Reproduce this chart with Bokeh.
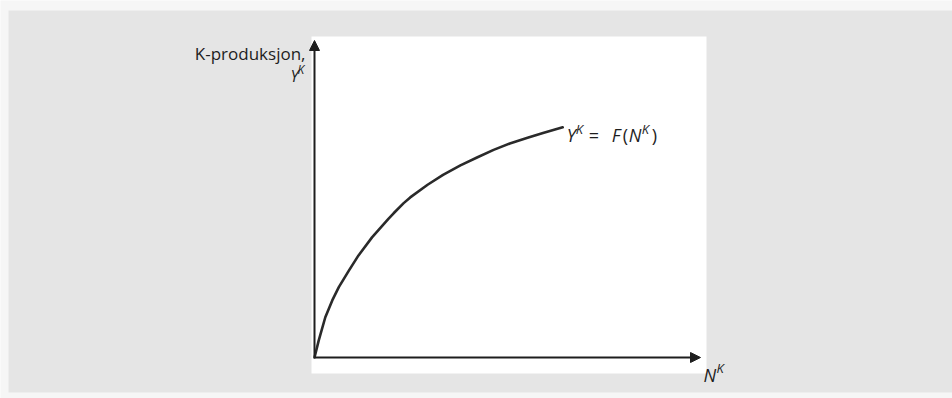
from bokeh.plotting import figure
from bokeh.models import Arrow, NormalHead, Range1d
from bokeh.core.properties import value
from bokeh.embed import file_html
from bokeh.resources import INLINE

# Production function Y^K = F(N^K): labour input and output along the curve
n_k = [0.0, 0.11, 0.28, 0.46, 0.63, 0.89, 1.14, 1.49, 1.92, 2.05, 2.31,
       2.48, 2.93, 3.33, 3.78, 4.21, 4.64, 5.06, 5.52, 5.92, 6.43]
y_k = [0.0, 0.54, 1.27, 1.80, 2.22, 2.74, 3.22, 3.79, 4.38, 4.55, 4.87,
       5.05, 5.45, 5.76, 6.06, 6.31, 6.55, 6.75, 6.93, 7.08, 7.26]

# Axis extents (arrow tips)
x_axis_end = 10.0
y_axis_end = 10.0

# Text
y_title = "K-produksjon,"
y_symbol = ["Y", "K"]
x_symbol = ["N", "K"]
curve_label = ["Y", "K", "=", "F", "(", "N", "K", ")"]

W, H = 952, 398
# page layout: where the origin sits and how many pixels per unit
ox, oy = 314, 357
sx, sy = 38.6, 31.7


def dx(px):
    return (px - ox) / sx


def dy(py):
    return (oy - py) / sy


FONT = value("Open Sans")
INK = "#1e1e1e"

p = figure(width=W, height=H, output_backend="svg", toolbar_location=None,
           x_range=Range1d(dx(0), dx(W)), y_range=Range1d(dy(H), dy(0)),
           min_border=0, outline_line_color=None,
           background_fill_color="#f6f6f6", border_fill_color="#f6f6f6")
p.axis.visible = False
p.grid.visible = False

# printed page behind the figure, and the blank figure area
p.quad(left=dx(8), right=dx(W), top=dy(10), bottom=dy(392),
       fill_color="#e5e5e5", line_color=None)
p.quad(left=dx(311), right=dx(706), top=dy(36), bottom=dy(373),
       fill_color="#ffffff", line_color=None)

# the curve
p.line(n_k, y_k, line_color="#2a2a2a", line_width=2.6,
       line_join="round", line_cap="round")

# axes with arrow heads
head = dict(size=10, fill_color=INK, line_color=INK, line_width=1)
p.add_layout(Arrow(end=NormalHead(**head), x_start=0, y_start=0,
                   x_end=x_axis_end, y_end=0, line_color=INK, line_width=2))
p.add_layout(Arrow(end=NormalHead(**head), x_start=0, y_start=0,
                   x_end=0, y_end=y_axis_end, line_color=INK, line_width=2))


def put(x, y, txt, xo, yo, size, style="normal", align="left"):
    p.text(x=[x], y=[y], text=[txt], x_offset=xo, y_offset=yo,
           text_font=FONT, text_font_size=f"{size}px",
           text_font_style=style, text_color=INK,
           text_align=align, text_baseline="alphabetic")


# y-axis title
put(0, y_axis_end, y_title, -9, 13, 17, align="right")
put(0, y_axis_end, y_symbol[0], -16, 35, 16, "italic", "right")
put(0, y_axis_end, y_symbol[1], -17, 29, 12, "italic")

# x-axis symbol
put(x_axis_end, 0, x_symbol[0], 3, 17, 18, "italic")
put(x_axis_end, 0, x_symbol[1], 16, 10, 13, "italic")

# curve label at the end of the curve
ex, ey = n_k[-1], y_k[-1]
offsets = [4, 13, 26, 49, 60, 66, 79, 89]
raised = [False, True, False, False, False, False, True, False]
italic = [True, True, False, True, False, True, True, False]
for txt, xo, up, it in zip(curve_label, offsets, raised, italic):
    put(ex, ey, txt, xo, 2 if up else 8, 13 if up else 18,
        "italic" if it else "normal")

open("out.html", "w").write(file_html(p, INLINE))
